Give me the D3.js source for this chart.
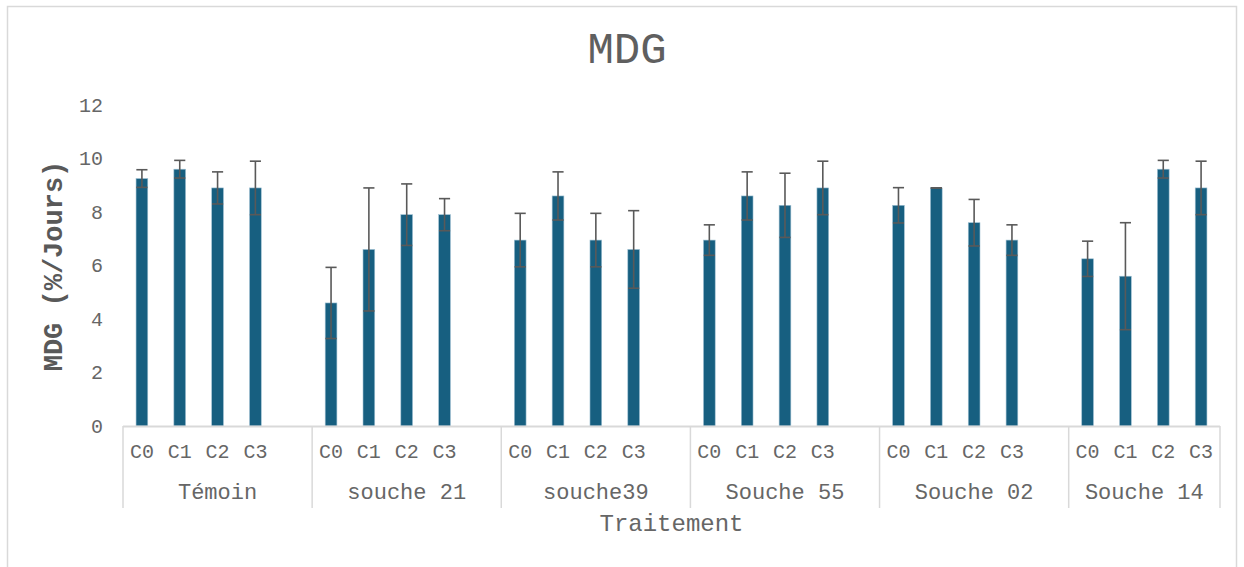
<!DOCTYPE html>
<html>
<head>
<meta charset="utf-8">
<script src="https://cdn.jsdelivr.net/npm/d3@7"></script>
<style>
  html, body { margin: 0; padding: 0; background: #ffffff; }
  svg { display: block; }
  text { font-family: 'Courier New', 'Liberation Mono', monospace; fill: #666666; }
</style>
</head>
<body>
<svg id="chart" width="1244" height="567"></svg>
<script>
// ---- data ----
const groups = ["Témoin", "souche 21", "souche39", "Souche 55", "Souche 02", "Souche 14"];
const conditions = ["C0", "C1", "C2", "C3"];
const yTicks = [0, 2, 4, 6, 8, 10, 12];

const temoinValues   = [9.25, 9.6, 8.9, 8.9];
const souche21Values = [4.6, 6.6, 7.9, 7.9];
const souche39Values = [6.95, 8.6, 6.95, 6.6];
const souche55Values = [6.95, 8.6, 8.25, 8.9];
const souche02Values = [8.25, 8.9, 7.6, 6.95];
const souche14Values = [6.25, 5.6, 9.6, 8.9];

const temoinErrors   = [0.33, 0.33, 0.6, 1.0];
const souche21Errors = [1.33, 2.3, 1.15, 0.6];
const souche39Errors = [1.0, 0.9, 1.0, 1.45];
const souche55Errors = [0.57, 0.9, 1.2, 1.0];
const souche02Errors = [0.66, 0.0, 0.87, 0.57];
const souche14Errors = [0.66, 2.0, 0.33, 1.0];

const allValues = [temoinValues, souche21Values, souche39Values, souche55Values, souche02Values, souche14Values];
const allErrors = [temoinErrors, souche21Errors, souche39Errors, souche55Errors, souche02Errors, souche14Errors];

// ---- build table ----
const rows = [];
groups.forEach((g, gi) => {
  conditions.forEach((c, ci) => {
    rows.push({ group: g, cond: c, key: g + "|" + c, value: allValues[gi][ci], err: allErrors[gi][ci] });
  });
});
// slot domain: 4 conditions per group, plus one blank slot between groups
const slots = [];
groups.forEach((g, gi) => {
  conditions.forEach(c => slots.push(g + "|" + c));
  if (gi < groups.length - 1) slots.push(g + "|gap");
});

// ---- layout ----
const svg = d3.select("#chart");
const plotLeft = 123, plotRight = 1220, plotTop = 105, plotBottom = 426;

const x = d3.scaleBand().domain(slots).range([plotLeft, plotRight]).paddingInner(0).paddingOuter(0);
const y = d3.scaleLinear().domain([0, 12]).range([plotBottom, plotTop]);
const barW = x.bandwidth() * 0.31;

// chart border
svg.append("rect")
  .attr("x", 7.5).attr("y", 6.5).attr("width", 1229).attr("height", 600)
  .attr("fill", "none").attr("stroke", "#d9d9d9").attr("stroke-width", 1.5);

// title
svg.append("text")
  .attr("x", 627).attr("y", 63)
  .attr("text-anchor", "middle")
  .style("font-size", "44px")
  .style("fill", "#5f5f5f")
  .text("MDG");

// y axis
const yAxis = svg.append("g")
  .attr("transform", `translate(${plotLeft - 20},0)`)
  .call(d3.axisLeft(y).tickValues(yTicks).tickSize(0).tickPadding(0));
yAxis.select(".domain").remove();
yAxis.selectAll("text")
  .style("font-size", "20px")
  .style("font-family", "'Courier New', 'Liberation Mono', monospace")
  .style("fill", "#666666");

// y axis title
svg.append("text")
  .attr("transform", "translate(62,266) rotate(-90)")
  .attr("text-anchor", "middle")
  .style("font-size", "27px")
  .style("font-weight", "bold")
  .style("fill", "#595959")
  .text("MDG (%/Jours)");

// bars
svg.append("g").selectAll("rect")
  .data(rows)
  .join("rect")
  .attr("x", d => x(d.key) + x.bandwidth() / 2 - barW / 2)
  .attr("y", d => y(d.value))
  .attr("width", barW)
  .attr("height", d => y(0) - y(d.value))
  .attr("fill", "#175f80")
  .attr("stroke", "#9fc0d2")
  .attr("stroke-width", 0.6);

// error bars
const capW = barW * 0.95;
const eb = svg.append("g").attr("stroke", "#595959").attr("stroke-width", 1.6);
rows.forEach(d => {
  const cx = x(d.key) + x.bandwidth() / 2;
  const yTop = y(d.value + d.err), yBot = y(d.value - d.err);
  eb.append("line").attr("x1", cx).attr("x2", cx).attr("y1", yTop).attr("y2", yBot);
  eb.append("line").attr("x1", cx - capW / 2).attr("x2", cx + capW / 2).attr("y1", yTop).attr("y2", yTop);
  eb.append("line").attr("x1", cx - capW / 2).attr("x2", cx + capW / 2).attr("y1", yBot).attr("y2", yBot);
});

// x axis line
svg.append("line")
  .attr("x1", plotLeft).attr("x2", plotRight).attr("y1", plotBottom + 0.5).attr("y2", plotBottom + 0.5)
  .attr("stroke", "#d9d9d9").attr("stroke-width", 2);

// group dividers
const groupStart = g => x(g + "|C0");
const groupEnd = (g, gi) => gi < groups.length - 1 ? x(groups[gi + 1] + "|C0") : plotRight;
const dividers = groups.map(groupStart).concat([plotRight]);
svg.append("g").selectAll("line")
  .data(dividers)
  .join("line")
  .attr("x1", d => d).attr("x2", d => d)
  .attr("y1", plotBottom).attr("y2", 508)
  .attr("stroke", "#d9d9d9").attr("stroke-width", 1.5);

// condition labels
svg.append("g").selectAll("text")
  .data(rows)
  .join("text")
  .attr("x", d => x(d.key) + x.bandwidth() / 2)
  .attr("y", 458)
  .attr("text-anchor", "middle")
  .style("font-size", "20px")
  .text(d => d.cond);

// group labels
svg.append("g").selectAll("text")
  .data(groups)
  .join("text")
  .attr("x", (g, gi) => (groupStart(g) + groupEnd(g, gi)) / 2)
  .attr("y", 499)
  .attr("text-anchor", "middle")
  .style("font-size", "22px")
  .text(g => g);

// x axis title
svg.append("text")
  .attr("x", (plotLeft + plotRight) / 2).attr("y", 531)
  .attr("text-anchor", "middle")
  .style("font-size", "24px")
  .text("Traitement");
</script>
</body>
</html>
